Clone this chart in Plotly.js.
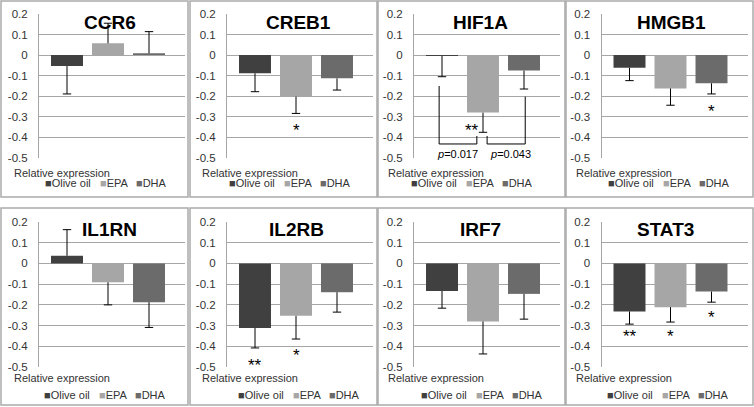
<!DOCTYPE html>
<html><head><meta charset="utf-8">
<script src="https://cdn.plot.ly/plotly-3.0.1.min.js"></script>
<style>html,body{margin:0;padding:0;background:#fff}#chart{width:754px;height:407px}</style>
</head><body><div id="chart"></div>
<script>
// ---------------- data ----------------
const genes = ['CCR6','CREB1','HIF1A','HMGB1','IL1RN','IL2RB','IRF7','STAT3'];
const seriesNames = ['Olive oil','EPA','DHA'];
const oliveOil = [-0.054,-0.089,-0.005,-0.062, 0.037,-0.312,-0.133,-0.232];
const epa      = [ 0.057,-0.203,-0.281,-0.163,-0.091,-0.253,-0.280,-0.211];
const dha      = [ 0.008,-0.114,-0.076,-0.138,-0.187,-0.139,-0.147,-0.136];
const oliveOilErr = [0.136,0.090,0.101,0.063,0.126,0.096,0.083,0.061];
const epaErr      = [0.098,0.082,0.096,0.082,0.109,0.112,0.157,0.072];
const dhaErr      = [0.106,0.057,0.090,0.052,0.122,0.096,0.122,0.051];
const yTickVals = [0.2,0.1,0,-0.1,-0.2,-0.3,-0.4,-0.5];
const yTickText = ['0.2','0.1','0','-0.1','-0.2','-0.3','-0.4','-0.5'];
const categoryLabel = 'Relative expression';
// significance marks (gene index, x position in series units, label, y value)
const sigGene = [1,3,2,5,5,7,7,7];
const sigX    = [1,2,0.73,0,1,0,1,2];
const sigText = ['*','*','**','**','*','**','*','*'];
const sigY    = [-0.350,-0.258,-0.350,-0.473,-0.425,-0.335,-0.335,-0.240];
// HIF1A comparison brackets and p values
const bracketX = [-0.07,-0.07,0.85,0.85,null,1.10,1.10,2.03,2.03];
const bracketY = [-0.151,-0.434,-0.434,-0.395,null,-0.395,-0.434,-0.434,-0.203];
const pText = ['<i>p</i>=0.017','<i>p</i>=0.043'];
const pX = [0.375,1.67];
const pY = [-0.483,-0.483];

// ---------------- layout geometry (pixels) ----------------
const W = 754, H = 407;
const colors = ['#404040','#a6a6a6','#6b6b6b'];
const panelX0 = [1,190,378,566], panelW = 187;
const rowY0 = [1,208], rowY1 = [197,405];
const plotLeft = [39,227,414,601.5], plotW = 146;
const plotTop = [14,222], plotBot = [157.5,367];
const barOffset = 28, barSpacing = 41;
const titleX = [109.7,298.5,480.5,671,109.5,296,480.5,665];
const titleY = [23,229];
const catLabelX = [12,200,386,574,12,200,386,574];
const catLabelY = [173,378];
const legendX = [43,227,409,606,42,236,419,605];
const legendItemOffset = [0,55,91];
const legendY = [183,395];

const FONT = '"Liberation Sans", Arial, sans-serif';
const px = v => v / W, py = v => 1 - v / H;

const traces = [], annotations = [], shapes = [];
const layout = {
  width: W, height: H, margin: {l:0,r:0,t:0,b:0},
  paper_bgcolor: '#fff', plot_bgcolor: '#fff', showlegend: false,
  font: {family: FONT, size: 11, color: '#333'}
};

genes.forEach((g, i) => {
  const row = Math.floor(i / 4), col = i % 4;
  const k = i === 0 ? '' : String(i + 1);
  const xa = 'x' + k, ya = 'y' + k;
  const vals = [oliveOil[i], epa[i], dha[i]];
  const errs = [oliveOilErr[i], epaErr[i], dhaErr[i]];
  const xs = [0,1,2];
  const left = plotLeft[col];
  layout['xaxis' + k] = {
    domain: [px(left), px(left + plotW)], anchor: ya,
    range: [-barOffset / barSpacing, (plotW - barOffset) / barSpacing],
    showticklabels: false, showgrid: false, zeroline: false, showline: false,
    fixedrange: true
  };
  layout['yaxis' + k] = {
    domain: [py(plotBot[row]), py(plotTop[row])], anchor: xa,
    range: [-0.5, 0.2], tickvals: yTickVals, ticktext: yTickText,
    showgrid: true, gridcolor: '#a6a6a6', gridwidth: 1, zeroline: false,
    showline: true, linecolor: '#a6a6a6', linewidth: 1,
    ticks: 'outside', ticklen: 8, tickcolor: 'rgba(0,0,0,0)',
    tickfont: {family: FONT, size: 11.5, color: '#333'}, fixedrange: true
  };
  traces.push({
    type: 'bar', x: xs, y: vals, xaxis: xa, yaxis: ya, width: 0.78,
    marker: {color: colors, line: {width: 0}}, text: seriesNames,
    hoverinfo: 'text+y', textposition: 'none'
  });
  const ex = [], ey = [], endY = [];
  vals.forEach((v, j) => {
    const e = v >= 0 ? v + errs[j] : v - errs[j];
    ex.push(j, j, null); ey.push(v, e, null); endY.push(e);
  });
  traces.push({type: 'scatter', mode: 'lines', x: ex, y: ey, xaxis: xa, yaxis: ya,
    line: {color: '#000', width: 1}, hoverinfo: 'skip'});
  traces.push({type: 'scatter', mode: 'markers', x: xs, y: endY, xaxis: xa, yaxis: ya,
    marker: {symbol: 'line-ew', size: 6, line: {color: '#000', width: 1}}, hoverinfo: 'skip'});
  if (g === 'HIF1A') {
    traces.push({type: 'scatter', mode: 'lines', x: bracketX, y: bracketY, xaxis: xa, yaxis: ya,
      line: {color: '#000', width: 1}, hoverinfo: 'skip'});
    pText.forEach((t, j) => annotations.push({xref: xa, yref: ya, x: pX[j], y: pY[j],
      text: t, showarrow: false, xanchor: 'center', yanchor: 'middle',
      font: {family: FONT, size: 11, color: '#000'}}));
  }
  // panel border
  shapes.push({type: 'rect', xref: 'paper', yref: 'paper',
    x0: px(panelX0[col]), x1: px(panelX0[col] + panelW),
    y0: py(rowY1[row]), y1: py(rowY0[row]),
    line: {color: '#aaaaaa', width: 1.5}, layer: 'below'});
  // title
  annotations.push({xref: 'paper', yref: 'paper', x: px(titleX[i]), y: py(titleY[row]),
    text: '<b>' + g + '</b>', showarrow: false, xanchor: 'center', yanchor: 'middle',
    font: {family: FONT, size: 19, color: '#000'}});
  // category label
  annotations.push({xref: 'paper', yref: 'paper', x: px(catLabelX[i]), y: py(catLabelY[row]),
    text: categoryLabel, showarrow: false, xanchor: 'left', yanchor: 'middle',
    font: {family: FONT, size: 11, color: '#333'}});
  // legend items
  seriesNames.forEach((s, j) => {
    annotations.push({xref: 'paper', yref: 'paper',
      x: px(legendX[i] + legendItemOffset[j]), y: py(legendY[row]),
      text: '<span style="color:' + colors[j] + '">\u25A0</span>' + s,
      showarrow: false, xanchor: 'left', yanchor: 'middle',
      font: {family: FONT, size: 11, color: '#333'}});
  });
});

sigGene.forEach((gi, j) => {
  const k = gi === 0 ? '' : String(gi + 1);
  annotations.push({xref: 'x' + k, yref: 'y' + k, x: sigX[j], y: sigY[j], text: sigText[j],
    showarrow: false, xanchor: 'center', yanchor: 'middle', yshift: -4,
    font: {family: FONT, size: 17, color: '#000'}});
});

layout.annotations = annotations;
layout.shapes = shapes;
Plotly.newPlot('chart', traces, layout, {staticPlot: true, displayModeBar: false});
</script>
</body></html>
